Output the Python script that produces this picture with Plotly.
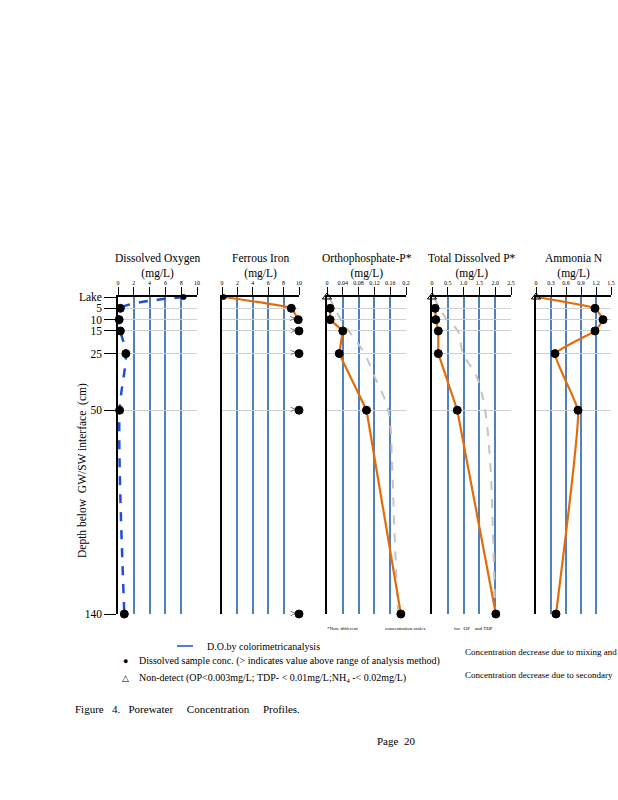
import plotly.graph_objects as go

# ---------------- data ----------------
depths = [0, 5, 10, 15, 25, 50, 140]
depth_labels = ["Lake", "5", "10", "15", "25", "50", "140"]

do_vals = [8.3, 0.3, 0.15, 0.3, 1.0, 0.2, 0.8]
fe_vals = [0.2, 9.0, 9.9, 10.0, 10.0, 10.0, 10.0]
fe_above_idx = [2, 3, 4, 5, 6]
op_vals = [0.0, 0.008, 0.008, 0.04, 0.031, 0.10, 0.187]
tdp_vals = [0.0, 0.10, 0.12, 0.20, 0.20, 0.80, 2.02]
nh_vals = [0.0, 1.18, 1.34, 1.18, 0.38, 0.84, 0.40]

mix_depths = [0, 5, 10, 15, 25, 35, 50, 75, 100, 140]
op_mix = [0.005, 0.02, 0.035, 0.055, 0.095, 0.12, 0.155, 0.165, 0.17, 0.18]
tdp_mix = [0.05, 0.25, 0.47, 0.82, 0.98, 1.41, 1.68, 1.85, 1.92, 2.0]

panel_titles = ["Dissolved Oxygen<br>(mg/L)", "Ferrous Iron<br>(mg/L)",
                "Orthophosphate-P*<br>(mg/L)", "Total Dissolved P*<br>(mg/L)",
                "Ammonia N<br>(mg/L)"]
x_ticks = [
    ([0, 2, 4, 6, 8, 10], ["0", "2", "4", "6", "8", "10"]),
    ([0, 2, 4, 6, 8, 10], ["0", "2", "4", "6", "8", "10"]),
    ([0, 0.04, 0.08, 0.12, 0.16, 0.2], ["0", "0.04", "0.08", "0.12", "0.16", "0.2"]),
    ([0, 0.5, 1.0, 1.5, 2.0, 2.5], ["0", "0.5", "1.0", "1.5", "2.0", "2.5"]),
    ([0, 0.3, 0.6, 0.9, 1.2, 1.5], ["0", "0.3", "0.6", "0.9", "1.2", "1.5"]),
]
x_ranges = [[0, 10], [0, 10], [0, 0.2], [0, 2.5], [0, 1.5]]

# ---------------- layout geometry ----------------
W, H = 618, 800
panel_px = [(118, 197), (222, 299), (327, 406), (432, 511), (536, 611)]
y_top_px, y_bot_px = 297, 614

ORANGE = "#e36c0a"
BLUE_GRID = "#4f81bd"
FONT = "Liberation Serif"
DOT = dict(color="black", size=8, line=dict(color="black", width=1))
SMALL_DOT = dict(color="black", size=5, line=dict(color="black", width=1))
TRI = dict(symbol="triangle-up-open", color="black", size=8)

fig = go.Figure()

def add(x, y, k, **kw):
    fig.add_trace(go.Scatter(x=x, y=y, xaxis="x" + k, yaxis="y" + k, showlegend=False, **kw))

# DO
add(do_vals, depths, "", mode="lines",
    line=dict(color="#1f4fd6", width=2.5, dash="dash", shape="spline", smoothing=0.8))
add(do_vals[1:], depths[1:], "", mode="markers", marker=DOT, cliponaxis=False)
add(do_vals[:1], depths[:1], "", mode="markers", marker=SMALL_DOT, cliponaxis=False)
# Ferrous iron
add(fe_vals[:3], depths[:3], "2", mode="lines",
    line=dict(color=ORANGE, width=2.2, shape="spline", smoothing=0.3))
add([fe_vals[i] for i in fe_above_idx], [depths[i] for i in fe_above_idx], "2",
    mode="text", text=["> "] * len(fe_above_idx), textposition="middle left",
    textfont=dict(family=FONT, size=11, color="black"), cliponaxis=False)
add(fe_vals[1:], depths[1:], "2", mode="markers", marker=DOT, cliponaxis=False)
add(fe_vals[:1], depths[:1], "2", mode="markers", marker=SMALL_DOT, cliponaxis=False)
# OP
add(op_mix, mix_depths, "3", mode="lines",
    line=dict(color="#c4c4c4", width=2, dash="dash", shape="spline"))
add(op_vals[1:], depths[1:], "3", mode="lines+markers",
    line=dict(color=ORANGE, width=2.2), marker=DOT, cliponaxis=False)
add(op_vals[:1], depths[:1], "3", mode="markers", marker=TRI, cliponaxis=False)
# TDP
add(tdp_mix, mix_depths, "4", mode="lines",
    line=dict(color="#c4c4c4", width=2, dash="dash", shape="spline"))
add(tdp_vals[1:], depths[1:], "4", mode="lines+markers",
    line=dict(color=ORANGE, width=2.2), marker=DOT, cliponaxis=False)
add(tdp_vals[:1], depths[:1], "4", mode="markers", marker=TRI, cliponaxis=False)
# NH
add(nh_vals, depths, "5", mode="lines",
    line=dict(color=ORANGE, width=2.2, shape="spline", smoothing=0.3))
add(nh_vals[1:], depths[1:], "5", mode="markers", marker=DOT, cliponaxis=False)
add(nh_vals[:1], depths[:1], "5", mode="markers", marker=TRI, cliponaxis=False)

ydom = [1 - y_bot_px / H, 1 - y_top_px / H]
layout = dict(width=W, height=H, margin=dict(l=0, r=0, t=0, b=0, autoexpand=False),
              paper_bgcolor="white", plot_bgcolor="white", showlegend=False,
              font=dict(family=FONT, color="black"))

for i, (x0, x1) in enumerate(panel_px):
    k = "" if i == 0 else str(i + 1)
    tv, tt = x_ticks[i]
    layout["xaxis" + k] = dict(domain=[x0 / W, x1 / W], range=x_ranges[i], side="top",
                               anchor="y" + k, tickvals=tv, ticktext=tt, automargin=False,
                               ticks="outside", ticklen=8, tickcolor="black", tickwidth=1,
                               showline=True, linecolor="black", linewidth=1.5,
                               showgrid=True, gridcolor=BLUE_GRID, gridwidth=1.5,
                               zeroline=False, fixedrange=True,
                               tickfont=dict(family=FONT, size=6, color="black"))
    ya = dict(domain=ydom, range=[140, 0], anchor="x" + k, tickvals=depths, automargin=False,
              showline=True, linecolor="black", linewidth=1.5,
              showgrid=True, gridcolor="#d0d0d0", gridwidth=1.2, zeroline=False, fixedrange=True)
    if i == 0:
        ya.update(ticktext=depth_labels, ticks="outside", ticklen=12, tickcolor="black",
                  tickfont=dict(family=FONT, size=11.5, color="black"))
    else:
        ya.update(showticklabels=False, ticks="", matches="y")
    layout["yaxis" + k] = ya

annotations = []
for i, (x0, x1) in enumerate(panel_px):
    annotations.append(dict(text=panel_titles[i], x=(x0 + x1) / 2 / W, y=1 - 250 / H,
                            xref="paper", yref="paper", xanchor="center", yanchor="top",
                            showarrow=False, align="center",
                            font=dict(family=FONT, size=11.5, color="black")))

# y-axis title
annotations.append(dict(text="Depth below  GW/SW interface  (cm)", textangle=-90,
                        x=82 / W, y=1 - 471 / H, xref="paper", yref="paper",
                        xanchor="center", yanchor="middle", showarrow=False,
                        font=dict(family=FONT, size=11.5, color="black")))

def note(text, px, py, size=10, anchor="left"):
    annotations.append(dict(text=text, x=px / W, y=1 - py / H, xref="paper", yref="paper",
                            xanchor=anchor, yanchor="middle", showarrow=False,
                            font=dict(family=FONT, size=size, color="black")))

# tiny footnotes under OP / TDP panels
note("*Note different", 325, 628, size=5)
note("concentration scales", 383, 628, size=5)
note("for   OP    and TDP", 452, 628, size=5)

# legend block
note("D.O.by colorimetricanalysis", 205, 646, size=10)
note("●", 121, 661, size=9)
note("Dissolved sample conc. (> indicates value above range of analysis method)", 137, 661, size=10)
note("△", 120, 678, size=9)
note("Non-detect (OP<0.003mg/L; TDP- < 0.01mg/L;NH<sub>4</sub> -< 0.02mg/L)", 137, 678, size=10)
note("Concentration decrease due to mixing and", 463, 652, size=9)
note("Concentration decrease due to secondary", 463, 675, size=9)

# caption
note("Figure   4.   Porewater     Concentration     Profiles.", 73, 709, size=11)
note("Page  20", 375, 741, size=11)

layout["annotations"] = annotations
layout["shapes"] = [dict(type="line", xref="paper", yref="paper",
                         x0=177 / W, x1=193 / W, y0=1 - 646 / H, y1=1 - 646 / H,
                         line=dict(color="#1f4fd6", width=1.5))]

fig.update_layout(**layout)
fig.write_html("out.html", config={"displayModeBar": False},
               post_script="document.body.style.margin='0';")
